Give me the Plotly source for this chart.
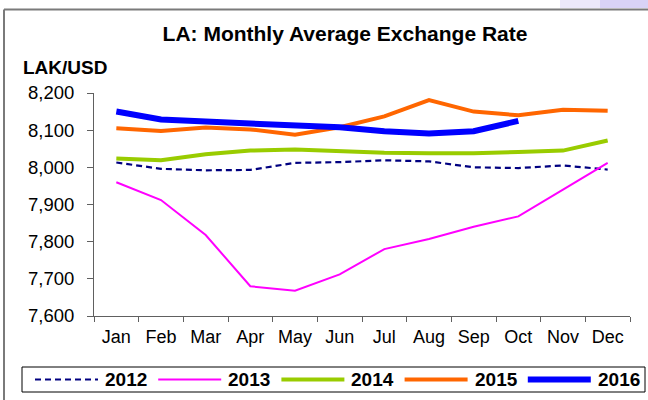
import plotly.graph_objects as go

months = ["Jan", "Feb", "Mar", "Apr", "May", "Jun", "Jul", "Aug", "Sep", "Oct", "Nov", "Dec"]
years = ["2012", "2013", "2014", "2015", "2016"]
rate_2012 = [8013, 7996, 7992, 7993, 8012, 8014, 8019, 8016, 8000, 7998, 8005, 7994]
rate_2013 = [7960, 7912, 7818, 7680, 7668, 7712, 7780, 7807, 7840, 7868, 7940, 8012]
rate_2014 = [8024, 8019, 8035, 8045, 8048, 8043, 8039, 8038, 8038, 8041, 8045, 8072]
rate_2015 = [8105, 8098, 8107, 8102, 8088, 8108, 8137, 8181, 8150, 8140, 8155, 8152]
rate_2016 = [8150, 8129, 8123, 8117, 8112, 8108, 8097, 8091, 8097, 8125]
y_ticks = [7600, 7700, 7800, 7900, 8000, 8100, 8200]

series = [rate_2012, rate_2013, rate_2014, rate_2015, rate_2016]
colors = ["#000080", "#FF00FF", "#99CC00", "#FF6600", "#0000FF"]
widths = [2.2, 2, 4, 4, 6]
dashes = ["6px,4px", "solid", "solid", "solid", "solid"]

FONT = "Liberation Sans, Arial, sans-serif"
W, H = 648, 400
L, R, T, B = 94, 18, 93, 84
PW, PH = W - L - R, H - T - B


def px(x):
    return (x - L) / PW


def py(y):
    return (H - B - y) / PH


fig = go.Figure()
for name, vals, c, w, d in zip(years, series, colors, widths, dashes):
    fig.add_trace(go.Scatter(
        x=months[:len(vals)], y=vals, name=name, mode="lines",
        line=dict(color=c, width=w, dash=d), showlegend=False,
    ))

shapes = []
annotations = []
# outer frame
shapes.append(dict(type="line", xref="paper", yref="paper", x0=px(4), x1=px(W + 5),
                   y0=py(9.5), y1=py(9.5), line=dict(color="#7a7a7a", width=2)))
shapes.append(dict(type="line", xref="paper", yref="paper", x0=px(4), x1=px(4),
                   y0=py(9.5), y1=py(H + 5), line=dict(color="#7a7a7a", width=2)))
# faint lavender corner
shapes.append(dict(type="rect", xref="paper", yref="paper", x0=px(560), x1=px(W + 2),
                   y0=py(8), y1=py(-2), line=dict(width=0), fillcolor="rgba(200,190,240,0.35)", layer="below"))
shapes.append(dict(type="rect", xref="paper", yref="paper", x0=px(600), x1=px(W + 2),
                   y0=py(8), y1=py(-2), line=dict(width=0), fillcolor="rgba(190,180,240,0.4)", layer="below"))

# custom legend
shapes.append(dict(type="rect", xref="paper", yref="paper", x0=px(22), x1=px(645),
                   y0=py(367), y1=py(392), line=dict(color="black", width=1), fillcolor="white"))
ly = 379.5
for i, (name, c, w, d) in enumerate(zip(years, colors, widths, dashes)):
    x0 = 35 + i * 123.2
    shapes.append(dict(type="line", xref="paper", yref="paper", x0=px(x0), x1=px(x0 + 63),
                       y0=py(ly), y1=py(ly), line=dict(color=c, width=w, dash=d)))
    annotations.append(dict(text="<b>" + name + "</b>", xref="paper", yref="paper", x=px(x0 + 68), y=py(ly),
                            xanchor="left", yanchor="middle", showarrow=False,
                            font=dict(family=FONT, size=19, color="black")))

annotations.append(dict(text="<b>LAK/USD</b>", xref="paper", yref="paper", x=px(21), y=py(68),
                        xanchor="left", yanchor="middle", showarrow=False,
                        font=dict(family=FONT, size=19, color="black")))

fig.update_layout(
    width=W, height=H,
    margin=dict(l=L, r=R, t=T, b=B),
    paper_bgcolor="white", plot_bgcolor="white",
    title=dict(text="<b>LA: Monthly Average Exchange Rate</b>", x=345 / W, y=1 - 34 / H,
               xref="container", yref="container", xanchor="center", yanchor="middle",
               font=dict(family=FONT, size=21, color="black")),
    font=dict(family=FONT, size=18, color="black"),
    shapes=shapes, annotations=annotations,
)
fig.update_xaxes(
    type="category", categoryorder="array", categoryarray=months, range=[-0.5, 11.5],
    showgrid=False, showline=True, linecolor="#606060", linewidth=1,
    ticks="outside", tickson="boundaries", ticklen=5, tickcolor="#606060",
    ticklabelstandoff=4,
    tickfont=dict(family=FONT, size=18, color="black"), zeroline=False,
)
fig.update_yaxes(
    range=[7600, 8200], tickvals=y_ticks, ticktext=[f"{v:,}" for v in y_ticks],
    showgrid=False, showline=True, linecolor="#606060", linewidth=1,
    ticks="outside", ticklen=6, tickcolor="#606060",
    ticklabelstandoff=9,
    tickfont=dict(family=FONT, size=18.5, color="black"), zeroline=False,
)
fig.write_html("out.html", config={"displayModeBar": False},
               post_script="document.body.style.margin='0';")
